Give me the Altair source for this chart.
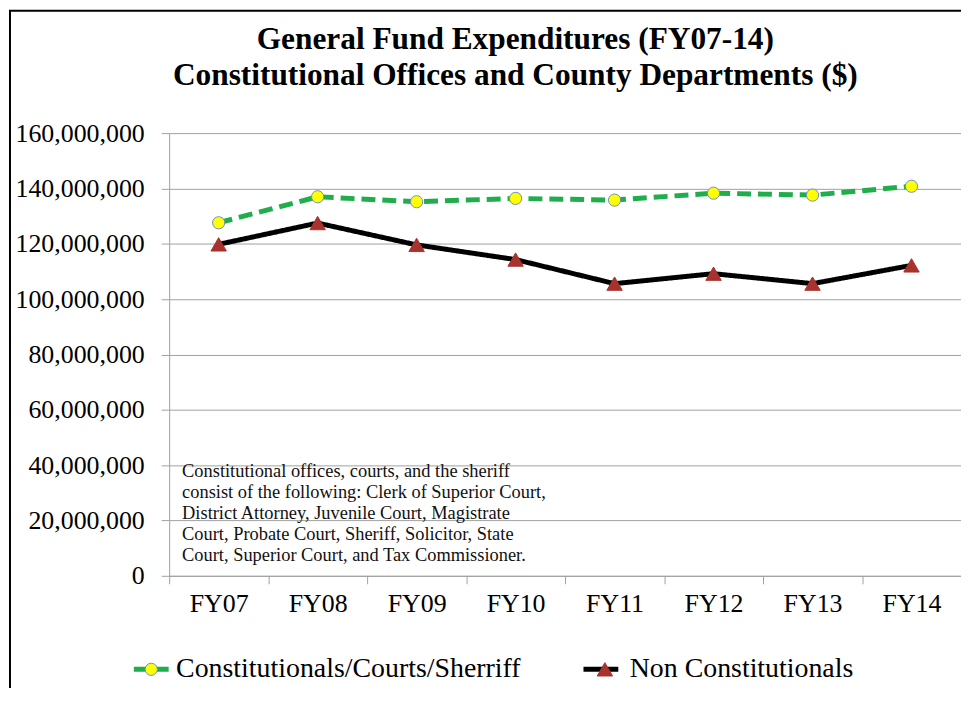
import altair as alt
import pandas as pd

years = ["FY07", "FY08", "FY09", "FY10", "FY11", "FY12", "FY13", "FY14"]
constitutionals = [127.6e6, 137.0e6, 135.2e6, 136.4e6, 135.8e6, 138.3e6, 137.6e6, 140.8e6]
non_constitutionals = [119.8e6, 127.5e6, 119.6e6, 114.3e6, 105.6e6, 109.2e6, 105.6e6, 112.2e6]
series_names = ["Constitutionals/Courts/Sherriff", "Non Constitutionals"]
y_ticks = [0, 20e6, 40e6, 60e6, 80e6, 100e6, 120e6, 140e6, 160e6]
title_lines = [
    "General Fund Expenditures (FY07-14)",
    "Constitutional Offices and County Departments ($)",
]
note_lines = [
    "Constitutional offices, courts, and the sheriff",
    "consist of the following: Clerk of Superior Court,",
    "District  Attorney, Juvenile Court, Magistrate",
    "Court, Probate Court, Sheriff, Solicitor,  State",
    "Court, Superior Court, and Tax Commissioner.",
]

line_colors = ["#1fae4b", "#000000"]
marker_fills = ["#ffff00", "#a8322d"]
marker_strokes = ["#6f8fc4", "#a8322d"]
marker_shapes = ["circle", "triangle-up"]
marker_sizes = [150, 240]

FONT = "Liberation Serif"
GRID = "#a0a0a0"

rows = []
for s, vals in zip(series_names, [constitutionals, non_constitutionals]):
    for yr, v in zip(years, vals):
        rows.append({"FY": yr, "value": v, "series": s, "series_m": s})
df = pd.DataFrame(rows)

x_enc = alt.X(
    "FY:N",
    sort=years,
    bandPosition=0.5,
    scale=alt.Scale(type="band", paddingInner=0, paddingOuter=0),
    axis=alt.Axis(
        title=None, labelAngle=0, tickBand="extent", tickSize=8,
        labelPadding=7, labelFont=FONT, labelFontSize=26, labelColor="black",
        domainColor=GRID, tickColor=GRID, grid=False,
    ),
)
y_enc = alt.Y(
    "value:Q",
    scale=alt.Scale(domain=[0, 160e6], nice=False),
    axis=alt.Axis(
        title=None, values=y_ticks, format=",d", tickSize=8, labelPadding=17,
        labelFont=FONT, labelFontSize=26, labelColor="black",
        domainColor=GRID, tickColor=GRID, gridColor=GRID, grid=True,
    ),
)

leg_line = alt.Legend(
    orient="none", legendX=-38, legendY=519, direction="horizontal", title=None,
    symbolType="stroke", symbolSize=1225, symbolStrokeWidth=5,
    labelFont=FONT, labelFontSize=28, labelOpacity=0, labelOffset=0,
    labelLimit=1000, columnPadding=57, padding=0,
)
leg_mark = alt.Legend(
    orient="none", legendX=-38, legendY=525, direction="horizontal", title=None,
    symbolStrokeWidth=1, symbolOffset=6,
    labelFont=FONT, labelFontSize=28, labelColor="black", labelOffset=11,
    labelLimit=1000, columnPadding=64, padding=0,
)

base = alt.Chart(df)

lines = base.mark_line(strokeWidth=5).encode(
    x=x_enc,
    y=y_enc,
    color=alt.Color("series:N", scale=alt.Scale(domain=series_names, range=line_colors), legend=leg_line),
    strokeDash=alt.condition(alt.datum.series == series_names[0], alt.value([14, 7]), alt.value([1, 0])),
)

points = base.mark_point(filled=True, strokeWidth=1, opacity=1).encode(
    x=x_enc,
    y=y_enc,
    shape=alt.Shape("series_m:N", scale=alt.Scale(range=marker_shapes), legend=leg_mark),
    fill=alt.Fill("series_m:N", scale=alt.Scale(range=marker_fills), legend=leg_mark),
    stroke=alt.Stroke("series_m:N", scale=alt.Scale(range=marker_strokes), legend=leg_mark),
    size=alt.Size("series_m:N", scale=alt.Scale(range=marker_sizes), legend=leg_mark),
)

border = alt.Chart(pd.DataFrame({"b": [0]})).mark_rect(
    fillOpacity=0, stroke="black", strokeWidth=2
).encode(
    x=alt.value(-160), x2=alt.value(1300), y=alt.value(-123), y2=alt.value(1000)
)

title = alt.Chart(pd.DataFrame({"t": ["\n".join(title_lines)]})).mark_text(
    font=FONT, fontSize=31.5, fontWeight="bold", align="center", baseline="alphabetic",
    lineBreak="\n", lineHeight=37, color="black",
).encode(text="t:N", x=alt.value(348), y=alt.value(-85))

note = alt.Chart(pd.DataFrame({"n": ["\n".join(note_lines)]})).mark_text(
    font=FONT, fontSize=18.5, align="left", baseline="alphabetic",
    lineBreak="\n", lineHeight=21, color="#111111",
).encode(text="n:N", x=alt.value(13), y=alt.value(346))

chart = alt.layer(border, title, note, lines, points).properties(
    width=796,
    height=445,
    padding={"left": 162, "top": 124, "right": 0, "bottom": 111},
    autosize="none",
).configure(
    background="white", font=FONT,
    style={"guide-label": {"font": FONT}, "guide-title": {"font": FONT}},
).configure_view(stroke=None).configure_legend(
    labelFont=FONT, labelFontSize=28, labelColor="black", labelLimit=1000
)

chart.save("out.html", embed_options={"renderer": "svg", "actions": False})
